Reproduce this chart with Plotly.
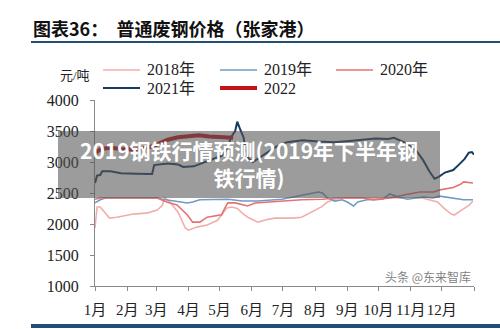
import plotly.graph_objects as go

# ---- data (day of year, price 元/吨) ----
d2018 = [0,2,5,12,14,21,37,51,60,65,67,72,80,87,90,98,108,118,122,127,132,137,143,148,157,164,173,190,199,208,218,224,231,240,260,290,315,330,336,343,346,353,360,364]
v2018 = [1935,2275,2275,2145,2095,2110,2160,2180,2225,2306,2430,2355,2190,1935,1900,1950,1985,2060,2150,2260,2275,2250,2160,2100,2030,2065,2095,2095,2110,2190,2275,2355,2400,2420,2420,2420,2420,2355,2255,2160,2145,2225,2300,2370]

d2019 = [0,5,10,60,65,75,89,94,101,128,142,157,180,186,197,215,219,224,231,238,243,249,253,262,277,284,292,301,316,326,332,342,355,364]
v2019 = [2340,2390,2420,2420,2400,2370,2340,2355,2390,2400,2370,2370,2400,2420,2460,2515,2500,2420,2370,2390,2355,2290,2355,2390,2400,2485,2435,2400,2435,2420,2450,2420,2390,2390]

d2020 = [0,5,60,69,79,89,94,101,108,120,122,125,128,135,142,147,154,167,180,199,219,231,249,258,268,284,301,306,313,326,332,345,352,355,364]
v2020 = [2400,2420,2420,2355,2306,2145,2030,2030,2110,2145,2150,2255,2340,2340,2306,2290,2340,2355,2370,2390,2400,2420,2420,2420,2390,2420,2480,2490,2515,2515,2550,2590,2640,2680,2660]

d2021 = [0,2,5,7,15,25,40,55,57,70,80,85,95,100,105,113,122,127,131,135,137,140,143,145,148,152,159,166,175,185,200,215,230,245,260,270,282,288,300,310,316,322,327,331,337,345,350,356,360,363,365]
v2021 = [2660,2780,2790,2850,2850,2820,2810,2805,2950,2975,2960,2920,2930,2960,3000,3050,3100,3200,3400,3500,3650,3520,3400,3200,3050,3000,3080,3160,3250,3320,3350,3330,3320,3340,3360,3380,3370,3390,3300,3170,3030,2850,2730,2760,2830,2870,2950,3050,3150,3160,3120]

d2022 = [0,2,6,15,25,35,45,55,62,70,80,90,100,110,120,128,133]
v2022 = [3120,3170,3210,3230,3210,3200,3220,3250,3300,3360,3400,3420,3430,3410,3400,3400,3390]

series_names = ["2018年", "2019年", "2020年", "2021年", "2022"]
month_days = [0,31,59,90,120,151,181,212,243,273,304,334,365]
month_labels = ["1月","2月","3月","4月","5月","6月","7月","8月","9月","10月","11月","12月",""]
y_ticks = [1000,1500,2000,2500,3000,3500,4000]

title_text = "图表36：  普通废钢价格（张家港）"
unit_text = "元/吨"
banner_text = "2019钢铁行情预测(2019年下半年钢<br>铁行情)"
watermark_text = "头条 @东来智库"

# ---- figure ----
L, R, T, B = 95, 26, 100, 43
W, H = 500, 329
pw, ph = W - L - R, H - T - B
def px(x): return (x - L) / pw
def py(y): return (H - B - y) / ph

serif = "Liberation Serif, Noto Sans CJK SC"
colors = ["rgba(240,165,160,0.9)", "#6f9cc6", "#e47272", "#1b3a60", "#c01418"]
widths = [1.6, 1.6, 1.6, 2.0, 4.0]
data = [(d2018, v2018), (d2019, v2019), (d2020, v2020), (d2021, v2021), (d2022, v2022)]

fig = go.Figure()
for name, (xs, ys), col, w in zip(series_names, data, colors, widths):
    fig.add_trace(go.Scatter(x=xs, y=ys, name=name, mode="lines",
                             line=dict(color=col, width=w), showlegend=False))

fig.update_layout(
    width=W, height=H,
    margin=dict(l=L, r=R, t=T, b=B, autoexpand=False),
    paper_bgcolor="white", plot_bgcolor="white",
    font=dict(family=serif, size=15, color="#222"),
    xaxis=dict(range=[0, 365], tickmode="array", tickvals=month_days, ticktext=month_labels,
               tickangle=0, automargin=False,
               showgrid=False, zeroline=False, showline=True, linecolor="#8a8a8a", linewidth=1,
               ticks="outside", ticklen=4, tickcolor="#8a8a8a", ticklabelstandoff=6,
               tickfont=dict(family=serif, size=15, color="#222")),
    yaxis=dict(range=[1000, 4000], tickmode="array", tickvals=y_ticks, automargin=False,
               showgrid=False, zeroline=False, showline=True, linecolor="#8a8a8a", linewidth=1,
               ticks="outside", ticklen=4, tickcolor="#8a8a8a", ticklabelstandoff=8,
               tickfont=dict(family=serif, size=16, color="#222")),
)

shapes = [
    dict(type="line", xref="paper", yref="paper", x0=px(31), x1=px(500), y0=py(42), y1=py(42),
         line=dict(color="#1f4e79", width=2)),
    dict(type="line", xref="paper", yref="paper", x0=px(31), x1=px(500), y0=py(326), y1=py(326),
         line=dict(color="#1f4e79", width=4)),
]
# manual legend (line samples + labels)
leg_pos = [(103, 70), (220, 70), (336, 70), (103, 88), (220, 88)]
for (lx, ly), col, w, name in zip(leg_pos, colors, widths, series_names):
    shapes.append(dict(type="line", xref="paper", yref="paper", x0=px(lx), x1=px(lx + 37),
                       y0=py(ly), y1=py(ly), line=dict(color=col, width=w)))
    fig.add_annotation(x=px(lx + 42), y=py(ly), xref="paper", yref="paper", xanchor="left",
                       yanchor="middle", text=name, showarrow=False,
                       font=dict(family=serif, size=16, color="#222"))
shapes.append(dict(type="rect", xref="paper", yref="paper", x0=px(58), x1=px(440), y0=py(198), y1=py(131),
                   fillcolor="rgba(85,85,85,0.58)", line=dict(width=0), layer="above"))
fig.update_layout(shapes=shapes)

fig.add_annotation(x=px(31), y=py(28), xref="paper", yref="paper", xanchor="left", yanchor="middle",
                   text="<b>" + title_text + "</b>", showarrow=False,
                   font=dict(family="Noto Sans CJK SC", size=18, color="#111"))
fig.add_annotation(x=px(75), y=py(76), xref="paper", yref="paper", xanchor="center", yanchor="middle",
                   text=unit_text, showarrow=False,
                   font=dict(family=serif, size=13, color="#222"))
fig.add_annotation(x=px(249), y=py(163), xref="paper", yref="paper", xanchor="center", yanchor="middle",
                   text="<b>" + banner_text + "</b>", showarrow=False,
                   font=dict(family="Noto Sans CJK SC", size=21, color="white"))
fig.add_annotation(x=px(472), y=py(276), xref="paper", yref="paper", xanchor="right", yanchor="middle",
                   text=watermark_text, showarrow=False, borderpad=0,
                   font=dict(family="Noto Sans CJK SC", size=12, color="rgba(70,70,70,0.7)"))

fig.write_html("out.html")
